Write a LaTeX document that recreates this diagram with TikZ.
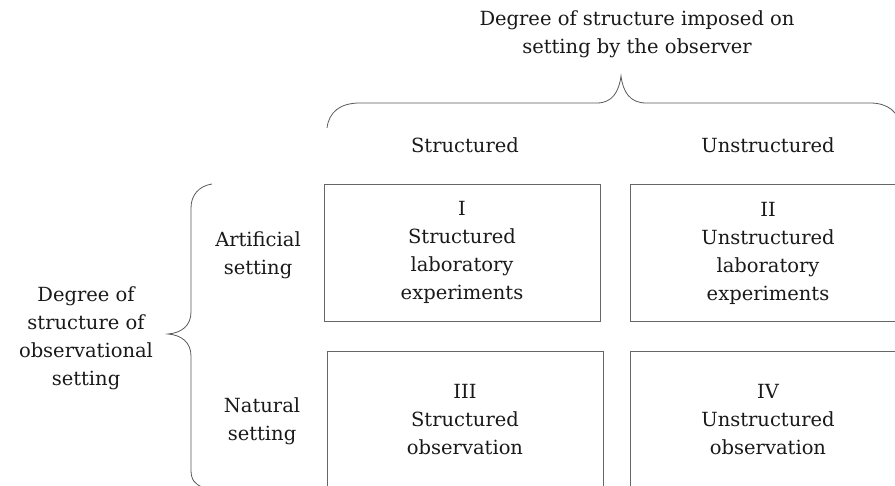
\documentclass[tikz,border=0pt]{standalone}
\usepackage{fontspec}
\setmainfont{DejaVu Serif}
\begin{document}
\begin{tikzpicture}[x=1pt,y=1pt,
  lbl/.style={align=center,font=\fontsize{19.5}{28}\selectfont,text=black!90,inner sep=0pt},
  cell/.style={draw=black!60,line width=0.8pt,minimum width=276pt,minimum height=137pt,
    align=center,font=\fontsize{19.5}{28}\selectfont,text=black!90,inner sep=0pt},
  brace/.style={draw=black!65,line width=0.8pt}]
\useasboundingbox (0,0) rectangle (895,-486);
\begin{scope}
\clip (0,0) rectangle (895,-486);
% the four cells of the table
\node[cell] (c1) at (462,-252.5) {I\\Structured\\laboratory\\experiments};
\node[cell] (c2) at (768,-253) {II\\Unstructured\\laboratory\\experiments};
\node[cell] (c3) at (465,-420) {III\\Structured\\observation};
\node[cell] (c4) at (768,-420) {IV\\Unstructured\\observation};
% top brace over the two columns
\draw[brace] (327,-128) .. controls (329,-112) and (340,-103) .. (360,-103)
  -- (597,-103) .. controls (612,-103) and (619,-92) .. (621,-76)
  .. controls (623,-92) and (630,-103) .. (646,-103)
  -- (870,-103) .. controls (888,-103) and (899,-112) .. (901,-128);
% left brace over the two rows
\draw[brace] (212,-184) .. controls (199,-186) and (191,-195) .. (191,-208)
  -- (191,-312) .. controls (191,-326) and (181,-333) .. (168,-334)
  .. controls (181,-335) and (191,-342) .. (191,-356)
  -- (191,-470) .. controls (191,-480) and (195,-484) .. (202,-487);
\end{scope}
% headings
\node[lbl] (title) at (637,-34.5) {Degree of structure imposed on\\setting by the observer};
\node[lbl] (h1) at (465,-145) {Structured};
\node[lbl] (h2) at (768,-145) {Unstructured};
\node[lbl] (r1) at (258,-255) {Artificial\\setting};
\node[lbl] (r2) at (262,-421) {Natural\\setting};
\node[lbl] (side) at (86,-338.5) {Degree of\\structure of\\observational\\setting};
\end{tikzpicture}
\end{document}
